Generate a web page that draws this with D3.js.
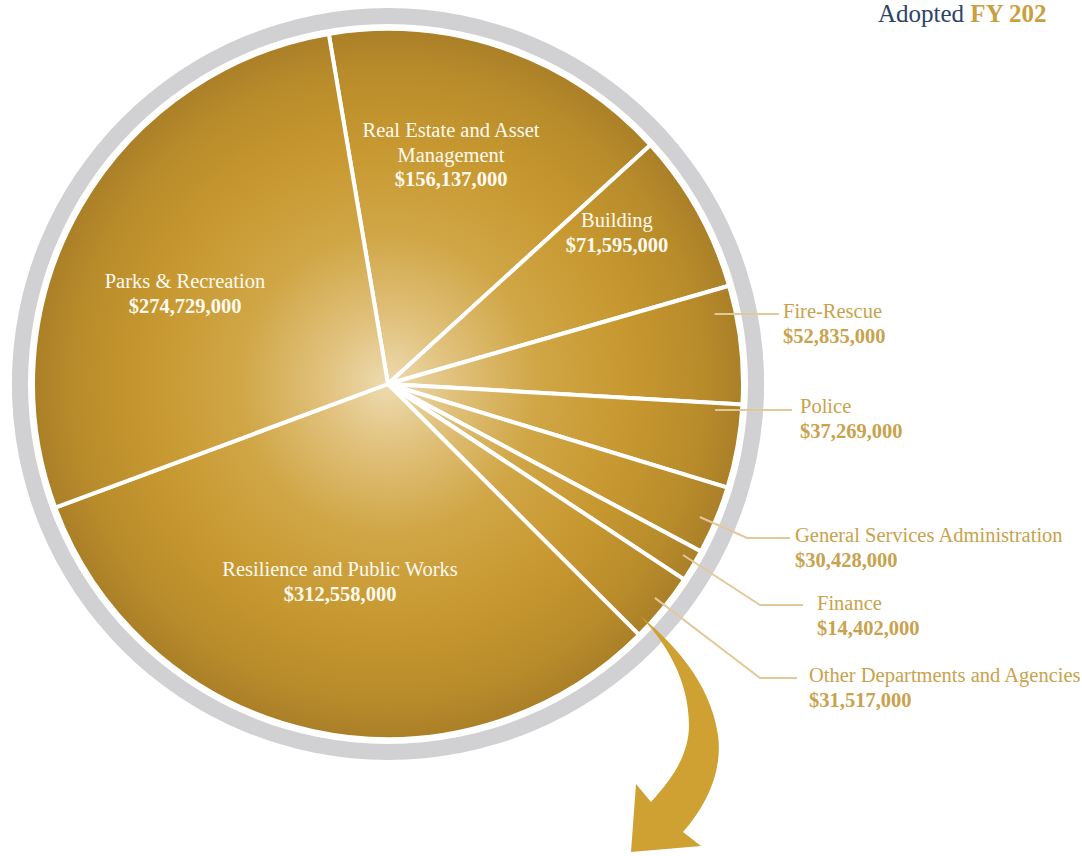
<!DOCTYPE html>
<html>
<head>
<meta charset="utf-8">
<script src="https://cdn.jsdelivr.net/npm/d3@7"></script>
<style>
  html, body { margin: 0; padding: 0; background: #ffffff; }
  svg { display: block; }
  text { font-family: "Liberation Serif", "DejaVu Serif", serif; }
</style>
</head>
<body>
<svg id="chart" width="1082" height="856"></svg>
<script>
// Adopted budget by department (USD)
const departments = [
  "Real Estate and Asset Management",
  "Building",
  "Fire-Rescue",
  "Police",
  "General Services Administration",
  "Finance",
  "Other Departments and Agencies",
  "Resilience and Public Works",
  "Parks & Recreation"
];
const budgets = [
  156137000, 71595000, 52835000, 37269000, 30428000,
  14402000, 31517000, 312558000, 274729000
];

// Label placement: inside labels are offsets from the pie centre,
// outside labels use a leader from a polar point inside the slice.
const insideLabels = {
  "Real Estate and Asset Management": { lines: ["Real Estate and Asset", "Management"], dx: 63, dy: -228.5 },
  "Building": { lines: ["Building"], dx: 229, dy: -150.75 },
  "Parks & Recreation": { lines: ["Parks & Recreation"], dx: -203, dy: -89.75 },
  "Resilience and Public Works": { lines: ["Resilience and Public Works"], dx: -48, dy: 198.25 }
};
const outsideLabels = {
  "Fire-Rescue":                      { angle: 77.9,  r: 334, elbow: null, lineY: 314, lineEnd: 779, textX: 783, baseY: 318 },
  "Police":                           { angle: 94.5,  r: 328, elbow: null, lineY: 410, lineEnd: 792, textX: 800, baseY: 413 },
  "General Services Administration":  { angle: 113.1, r: 339, elbow: 747,  lineY: 538, lineEnd: 790, textX: 795, baseY: 542 },
  "Finance":                          { angle: 120.1, r: 341, elbow: 760,  lineY: 605, lineEnd: 803, textX: 817, baseY: 610 },
  "Other Departments and Agencies":   { angle: 128.7, r: 342, elbow: 760,  lineY: 678, lineEnd: 797, textX: 809, baseY: 682 }
};

const svg = d3.select("#chart");
const cx = 388, cy = 384;
const radius = 355;
const fmt = v => "$" + d3.format(",")(v);

const deg = d => d * Math.PI / 180;
const polar = (a, r) => [cx + r * Math.sin(deg(a)), cy - r * Math.cos(deg(a))];

// Gradient fill for the whole pie
const defs = svg.append("defs");
const grad = defs.append("radialGradient")
  .attr("id", "goldGrad")
  .attr("gradientUnits", "userSpaceOnUse")
  .attr("cx", cx).attr("cy", cy).attr("r", radius);
[
  [0, "#eddbb0"], [0.18, "#e1c27d"], [0.42, "#d0a646"],
  [0.68, "#c79830"], [0.88, "#b98c2b"], [1, "#aa7f27"]
].forEach(([o, c]) => grad.append("stop").attr("offset", o).attr("stop-color", c));

// Title (top right)
const title = svg.append("text")
  .attr("x", 878).attr("y", 22)
  .attr("font-size", 25);
title.append("tspan").attr("fill", "#2c4566").text("Adopted ");
title.append("tspan").attr("fill", "#c9a040").attr("font-weight", "bold").text("FY 202");

// Grey outer ring
const ring = d3.arc().innerRadius(360).outerRadius(376).startAngle(0).endAngle(2 * Math.PI);
svg.append("path")
  .attr("transform", `translate(${cx},${cy})`)
  .attr("d", ring())
  .attr("fill", "#d1d1d3");

// Pie slices (drawn in absolute coordinates so the gradient is centred)
const startA = deg(-9.6);
const pie = d3.pie().sort(null).value(d => d.value)
  .startAngle(startA).endAngle(startA + 2 * Math.PI);
const data = departments.map((name, i) => ({ name, value: budgets[i] }));
const arcs = pie(data);
const arc = d3.arc().innerRadius(0).outerRadius(radius);

svg.append("g").attr("transform", `translate(${cx},${cy})`)
  .selectAll("path.slice")
  .data(arcs)
  .join("path")
  .attr("class", "slice")
  .attr("d", arc)
  .attr("fill", "url(#goldGradLocal)")
  .attr("stroke", "#ffffff")
  .attr("stroke-width", 4)
  .attr("stroke-linejoin", "round");

// same gradient in the group's local coordinates
const gradLocal = defs.append("radialGradient")
  .attr("id", "goldGradLocal")
  .attr("gradientUnits", "userSpaceOnUse")
  .attr("cx", 0).attr("cy", 0).attr("r", radius);
grad.selectAll("stop").each(function () {
  gradLocal.append("stop")
    .attr("offset", this.getAttribute("offset"))
    .attr("stop-color", this.getAttribute("stop-color"));
});

// Thin white rim around the pie
svg.append("circle")
  .attr("cx", cx).attr("cy", cy).attr("r", radius + 1)
  .attr("fill", "none").attr("stroke", "#ffffff").attr("stroke-width", 3);

// Arrow pointing out of "Other Departments and Agencies"
const arrow = d3.path();
arrow.moveTo(638, 614);
arrow.bezierCurveTo(670, 640, 710, 680, 718, 735);
arrow.bezierCurveTo(723, 772, 706, 806, 683, 832);
arrow.lineTo(701, 846);
arrow.lineTo(631, 852);
arrow.lineTo(636, 784);
arrow.lineTo(651, 802);
arrow.bezierCurveTo(672, 779, 689, 755, 689, 725);
arrow.bezierCurveTo(689, 680, 665, 640, 638, 614);
arrow.closePath();
svg.append("path").attr("d", arrow.toString()).attr("fill", "#cea132");

// Inside labels
const fs = 20.5, lh = 24.5;
arcs.forEach(d => {
  const lab = insideLabels[d.data.name];
  if (!lab) return;
  const lines = lab.lines.concat([fmt(d.data.value)]);
  const n = lines.length;
  const t = svg.append("text")
    .attr("text-anchor", "middle")
    .attr("fill", "#fffaf0")
    .attr("font-size", fs);
  lines.forEach((ln, i) => {
    t.append("tspan")
      .attr("x", cx + lab.dx)
      .attr("y", cy + lab.dy + (i - (n - 1) / 2) * lh + 6)
      .attr("font-weight", i === n - 1 ? "bold" : null)
      .text(ln);
  });
});

// Outside labels with leader lines
const goldText = "#c9a24d", leader = "#e2c99b";
arcs.forEach(d => {
  const lab = outsideLabels[d.data.name];
  if (!lab) return;
  const [x0, y0] = polar(lab.angle, lab.r);
  const pts = lab.elbow == null
    ? [[x0, lab.lineY], [lab.lineEnd, lab.lineY]]
    : [[x0, y0], [lab.elbow, lab.lineY], [lab.lineEnd, lab.lineY]];
  svg.append("path")
    .attr("d", d3.line()(pts))
    .attr("fill", "none")
    .attr("stroke", leader)
    .attr("stroke-width", 2);
  const t = svg.append("text").attr("fill", goldText).attr("font-size", fs);
  t.append("tspan").attr("x", lab.textX).attr("y", lab.baseY).text(d.data.name);
  t.append("tspan").attr("x", lab.textX).attr("y", lab.baseY + lh)
    .attr("font-weight", "bold").text(fmt(d.data.value));
});
</script>
</body>
</html>
